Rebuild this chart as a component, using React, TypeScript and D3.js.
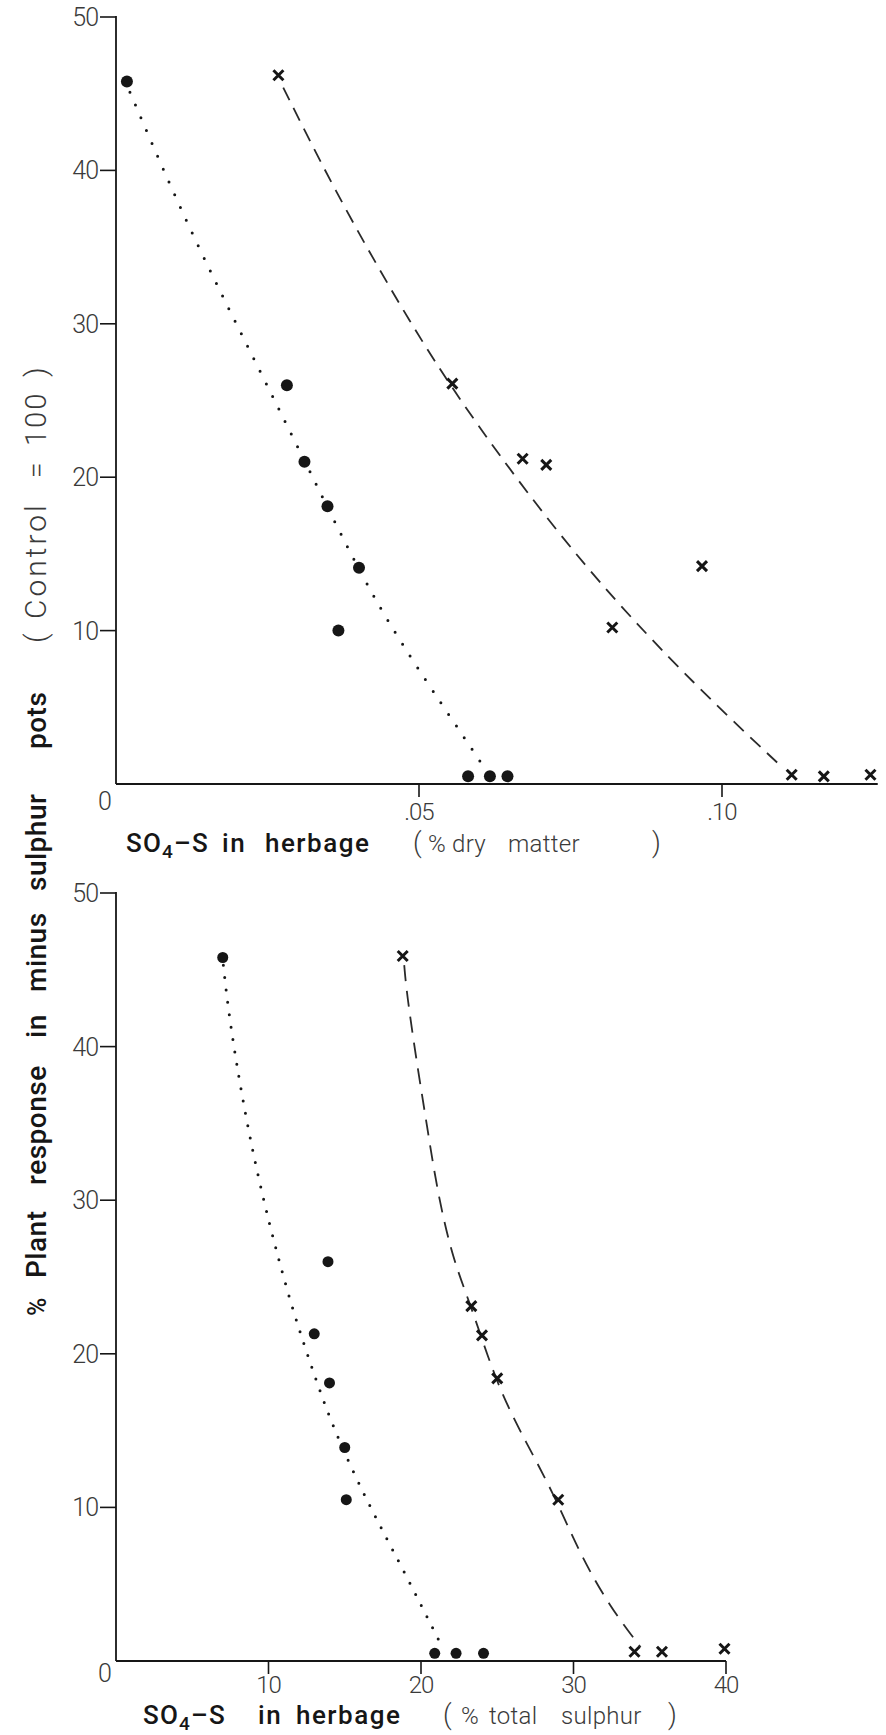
import React from "react";
import * as d3 from "d3";

// ---- Upper panel: SO4-S in herbage (% dry matter) ----
const dmCircleX = [0.0018, 0.0282, 0.0311, 0.0349, 0.0401, 0.0367, 0.0581, 0.0617, 0.0646];
const dmCircleY = [45.8, 26.0, 21.0, 18.1, 14.1, 10.0, 0.5, 0.5, 0.5];
const dmCrossX = [0.0268, 0.0555, 0.0671, 0.071, 0.0967, 0.0819, 0.1115, 0.1168, 0.1245];
const dmCrossY = [46.2, 26.1, 21.2, 20.8, 14.2, 10.2, 0.6, 0.5, 0.6];
// fitted response curves
const dmCircleFitX = [0.0023, 0.0122, 0.0233, 0.0337, 0.0431, 0.0546, 0.0609];
const dmCircleFitY = [45.1, 36.0, 27.3, 19.0, 11.5, 4.7, 1.0];
const dmCrossFitX = [0.0276, 0.0358, 0.0469, 0.0579, 0.0777, 0.0964, 0.1091];
const dmCrossFitY = [45.4, 38.9, 31.1, 24.2, 13.8, 6.1, 1.4];
const dmTicks = [0.05, 0.1];
const dmTickLabels = [".05", ".10"];
const dmAxisEnd = 0.1257;

// ---- Lower panel: SO4-S in herbage (% total sulphur) ----
const tsCircleX = [7.0, 13.9, 13.0, 14.0, 15.0, 15.1, 20.9, 22.3, 24.1];
const tsCircleY = [45.8, 26.0, 21.3, 18.1, 13.9, 10.5, 0.5, 0.5, 0.5];
const tsCrossX = [18.8, 23.3, 24.0, 25.0, 29.0, 34.0, 35.8, 39.9];
const tsCrossY = [45.9, 23.1, 21.2, 18.4, 10.5, 0.6, 0.6, 0.8];
const tsCircleFitX = [7.04, 7.48, 8.98, 11.2, 12.7, 14.2, 16.5, 18.6, 21.4];
const tsCircleFitY = [45.3, 41.3, 32.6, 24.0, 19.5, 15.2, 10.3, 6.4, 0.9];
const tsCrossFitX = [18.9, 19.06, 19.7, 20.4, 21.1, 22.1, 23.3, 25.0, 26.9, 28.7, 30.4, 32.4, 34.4];
const tsCrossFitY = [45.3, 43.5, 39.1, 34.8, 30.4, 26.1, 23.1, 17.9, 14.2, 10.9, 7.0, 3.5, 0.9];
const tsTicks = [10, 20, 30, 40];
const tsTickLabels = ["10", "20", "30", "40"];
const tsAxisEnd = 40;

const yTicks = [10, 20, 30, 40, 50];

const FONT = "Roboto, 'Liberation Sans', Arial, sans-serif";
const INK = "#161616";
const GREY = "#3a3a3a";

type PanelProps = {
  x: d3.ScaleLinear<number, number>;
  y: d3.ScaleLinear<number, number>;
  axisEnd: number;
  ticks: number[];
  tickLabels: string[];
  labelDy: number;
  zeroDy: number;
  circleX: number[];
  circleY: number[];
  crossX: number[];
  crossY: number[];
  circleFitX: number[];
  circleFitY: number[];
  crossFitX: number[];
  crossFitY: number[];
  dotGap: number;
  dash: string;
  r: number;
};

function Panel(p: PanelProps) {
  const { x, y } = p;
  const line = d3
    .line<[number, number]>()
    .x((d) => x(d[0]))
    .y((d) => y(d[1]))
    .curve(d3.curveBasis);
  const circleFit = line(p.circleFitX.map((v, i) => [v, p.circleFitY[i]]));
  const crossFit = line(p.crossFitX.map((v, i) => [v, p.crossFitY[i]]));
  const x0 = x(0);
  const y0 = y(0);
  const cs = 5;
  return (
    <g>
      {/* axes */}
      <line x1={x0} x2={x0} y1={y(50) - 1} y2={y0} stroke={INK} strokeWidth={1.8} />
      <line x1={x0} x2={x(p.axisEnd)} y1={y0} y2={y0} stroke={INK} strokeWidth={1.8} />
      {yTicks.map((t) => (
        <g key={"y" + t}>
          <line x1={x0 - 16} x2={x0} y1={y(t)} y2={y(t)} stroke={INK} strokeWidth={1.6} />
          <text
            x={x0 - 18}
            y={y(t) + 9}
            textAnchor="end"
            fontFamily={FONT}
            fontWeight={300}
            fontSize={25}
            fill={GREY}
            letterSpacing={-1}
          >
            {t}
          </text>
        </g>
      ))}
      <text
        x={x0 - 11}
        y={y0 + p.zeroDy}
        textAnchor="middle"
        fontFamily={FONT}
        fontWeight={300}
        fontSize={25}
        fill={GREY}
      >
        0
      </text>
      {p.ticks.map((t, i) => (
        <g key={"x" + t}>
          <line x1={x(t)} x2={x(t)} y1={y0} y2={y0 + 13} stroke={INK} strokeWidth={1.6} />
          <text
            x={x(t)}
            y={y0 + p.labelDy}
            textAnchor="middle"
            fontFamily={FONT}
            fontWeight={300}
            fontSize={24}
            fill={GREY}
            letterSpacing={-1}
          >
            {p.tickLabels[i]}
          </text>
        </g>
      ))}
      {/* fitted curves */}
      <path
        d={circleFit || ""}
        fill="none"
        stroke={INK}
        strokeWidth={3}
        strokeLinecap="round"
        strokeDasharray={`0 ${p.dotGap}`}
      />
      <path d={crossFit || ""} fill="none" stroke="#2a2a2a" strokeWidth={1.8} strokeDasharray={p.dash} />
      {/* observations */}
      {p.circleX.map((v, i) => (
        <circle key={"c" + i} cx={x(v)} cy={y(p.circleY[i])} r={p.r} fill={INK} />
      ))}
      {p.crossX.map((v, i) => {
        const cx = x(v);
        const cy = y(p.crossY[i]);
        return (
          <path
            key={"k" + i}
            d={`M${cx - cs},${cy - cs}L${cx + cs},${cy + cs}M${cx - cs},${cy + cs}L${cx + cs},${cy - cs}`}
            stroke={INK}
            strokeWidth={3}
          />
        );
      })}
    </g>
  );
}

type Word = { x: number; t: string; bold?: boolean; sub?: boolean; size?: number };

function XTitle({ y, words }: { y: number; words: Word[] }) {
  return (
    <g fontFamily={FONT}>
      {words.map((w, i) =>
        w.sub ? (
          <text key={i} x={w.x} y={y} fontSize={26} fontWeight={500} fill={INK} letterSpacing={1.2}>
            SO
            <tspan fontSize={19} dy={6}>
              4
            </tspan>
            <tspan dy={-6}>{"\u2013"}S</tspan>
          </text>
        ) : (
          <text
            key={i}
            x={w.x}
            y={y}
            fontWeight={w.bold ? 500 : 300}
            fill={w.bold ? INK : GREY}
            letterSpacing={w.bold ? 1.5 : 0.3}
            fontSize={w.size || (w.bold ? 26 : 24)}
          >
            {w.t}
          </text>
        )
      )}
    </g>
  );
}

export default function App() {
  const xTop = d3.scaleLinear().domain([0, 0.1]).range([116, 722]);
  const yTop = d3.scaleLinear().domain([0, 50]).range([784, 17]);
  const xBot = d3.scaleLinear().domain([0, 40]).range([116, 726]);
  const yBot = d3.scaleLinear().domain([0, 50]).range([1661, 893]);

  // vertical axis title, laid out word by word along the page (pos = where each word starts)
  const yWords: { pos: number; t: string; bold: boolean; size?: number; ls?: number }[] = [
    { pos: 1316, t: "%", bold: true, size: 25 },
    { pos: 1278, t: "Plant", bold: true },
    { pos: 1185, t: "response", bold: true },
    { pos: 1038, t: "in", bold: true },
    { pos: 992, t: "minus", bold: true },
    { pos: 891, t: "sulphur", bold: true },
    { pos: 749, t: "pots", bold: true },
    { pos: 643, t: "(", bold: false, size: 30 },
    { pos: 619, t: "Control", bold: false, size: 30, ls: 3 },
    { pos: 478, t: "=", bold: false },
    { pos: 446, t: "100", bold: false, size: 29, ls: 2 },
    { pos: 377, t: ")", bold: false, size: 30 },
  ];

  return (
    <svg
      width={886}
      height={1735}
      style={{ position: "absolute", left: 0, top: 0, background: "#fff" }}
    >
      <rect width={886} height={1735} fill="#fff" />
      <Panel
        x={xTop}
        y={yTop}
        axisEnd={dmAxisEnd}
        ticks={dmTicks}
        tickLabels={dmTickLabels}
        labelDy={36}
        zeroDy={26}
        circleX={dmCircleX}
        circleY={dmCircleY}
        crossX={dmCrossX}
        crossY={dmCrossY}
        circleFitX={dmCircleFitX}
        circleFitY={dmCircleFitY}
        crossFitX={dmCrossFitX}
        crossFitY={dmCrossFitY}
        dotGap={14}
        dash="14 9"
        r={6}
      />
      <Panel
        x={xBot}
        y={yBot}
        axisEnd={tsAxisEnd}
        ticks={tsTicks}
        tickLabels={tsTickLabels}
        labelDy={32}
        zeroDy={21}
        circleX={tsCircleX}
        circleY={tsCircleY}
        crossX={tsCrossX}
        crossY={tsCrossY}
        circleFitX={tsCircleFitX}
        circleFitY={tsCircleFitY}
        crossFitX={tsCrossFitX}
        crossFitY={tsCrossFitY}
        dotGap={12.5}
        dash="16 10"
        r={5.5}
      />
      <XTitle
        y={852}
        words={[
          { x: 126, t: "SO4-S", sub: true },
          { x: 222, t: "in", bold: true },
          { x: 265, t: "herbage", bold: true },
          { x: 413, t: "(", size: 27 },
          { x: 428, t: "%" },
          { x: 452, t: "dry" },
          { x: 508, t: "matter" },
          { x: 652, t: ")", size: 27 },
        ]}
      />
      <XTitle
        y={1724}
        words={[
          { x: 143, t: "SO4-S", sub: true },
          { x: 258, t: "in", bold: true },
          { x: 296, t: "herbage", bold: true },
          { x: 443, t: "(", size: 27 },
          { x: 461, t: "%" },
          { x: 489, t: "total" },
          { x: 561, t: "sulphur" },
          { x: 668, t: ")", size: 27 },
        ]}
      />
      <g fontFamily={FONT}>
        {yWords.map((w, i) => (
          <text
            key={i}
            transform={`translate(46,${w.pos}) rotate(-90)`}
            fontSize={w.size || 28}
            fontWeight={w.bold ? 500 : 300}
            fill={w.bold ? INK : GREY}
            letterSpacing={w.ls ?? (w.bold ? 0.5 : 1.5)}
          >
            {w.t}
          </text>
        ))}
      </g>
    </svg>
  );
}
